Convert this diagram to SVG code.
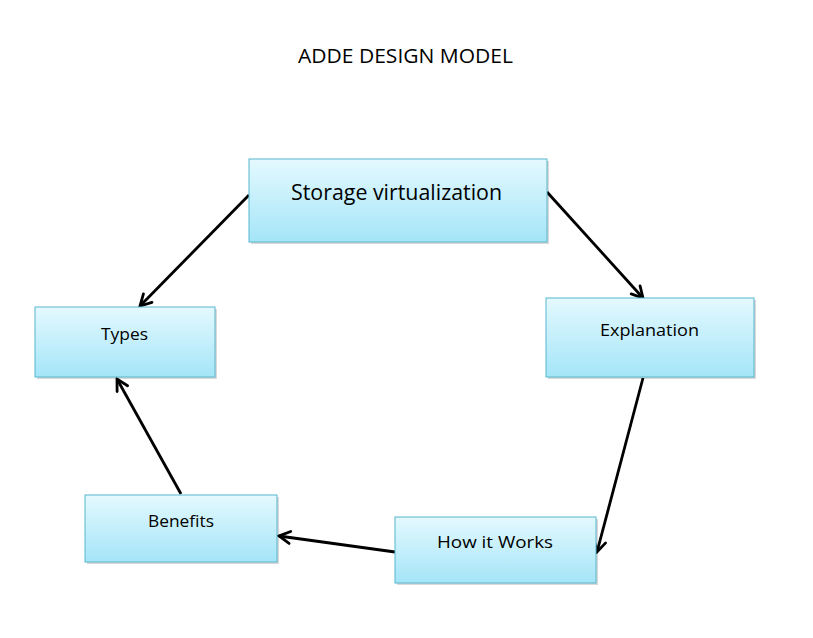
<svg xmlns="http://www.w3.org/2000/svg" width="813" height="638" viewBox="0 0 813 638">
<defs>
<linearGradient id="g" x1="0" y1="0" x2="0" y2="1">
<stop offset="0" stop-color="#e4f9fe"/>
<stop offset="1" stop-color="#a4e5f8"/>
</linearGradient>
<marker id="ah" markerUnits="userSpaceOnUse" markerWidth="16" markerHeight="16" viewBox="0 0 16 16" refX="14" refY="8" orient="auto">
<path d="M3,2 L14,8 L3,14" fill="none" stroke="#000" stroke-width="2.8" stroke-linecap="round" stroke-linejoin="miter"/>
</marker>
</defs>
<style>
.box{fill:url(#g);stroke:#58b6cf;stroke-width:1}
.sh{fill:#000;opacity:0.15}
.t{font-family:"Open Sans","Liberation Sans",sans-serif;fill:#000;text-anchor:middle}
.c{stroke:#000;stroke-width:2.8;fill:none;marker-end:url(#ah)}
</style>
<rect width="813" height="638" fill="#fff"/>
<text class="t" x="405.5" y="63" font-size="20" textLength="215" lengthAdjust="spacingAndGlyphs">ADDE DESIGN MODEL</text>
<g id="connectors">
<line class="c" x1="249" y1="195" x2="140" y2="306"/>
<line class="c" x1="547" y1="192" x2="643" y2="298"/>
<line class="c" x1="643" y1="378" x2="597" y2="552"/>
<line class="c" x1="395" y1="552" x2="279" y2="536"/>
<line class="c" x1="181" y1="494" x2="117" y2="379"/>
</g>
<g id="storage">
<rect class="sh" x="251" y="161" width="298" height="83"/>
<rect class="box" x="249" y="159" width="298" height="83"/>
<text class="t" x="396.5" y="200" font-size="21" textLength="211" lengthAdjust="spacingAndGlyphs">Storage virtualization</text>
</g>
<g id="types">
<rect class="sh" x="37" y="309" width="180" height="70"/>
<rect class="box" x="35" y="307" width="180" height="70"/>
<text class="t" x="124.5" y="340" font-size="16.5" textLength="47" lengthAdjust="spacingAndGlyphs">Types</text>
</g>
<g id="explanation">
<rect class="sh" x="548" y="300" width="208" height="79"/>
<rect class="box" x="546" y="298" width="208" height="79"/>
<text class="t" x="649.5" y="336" font-size="16.5" textLength="99" lengthAdjust="spacingAndGlyphs">Explanation</text>
</g>
<g id="howitworks">
<rect class="sh" x="397" y="519" width="201" height="66"/>
<rect class="box" x="395" y="517" width="201" height="66"/>
<text class="t" x="495" y="548" font-size="16.5" textLength="116" lengthAdjust="spacingAndGlyphs">How it Works</text>
</g>
<g id="benefits">
<rect class="sh" x="87" y="497" width="192" height="67"/>
<rect class="box" x="85" y="495" width="192" height="67"/>
<text class="t" x="181" y="527" font-size="16.5" textLength="66" lengthAdjust="spacingAndGlyphs">Benefits</text>
</g>
</svg>
